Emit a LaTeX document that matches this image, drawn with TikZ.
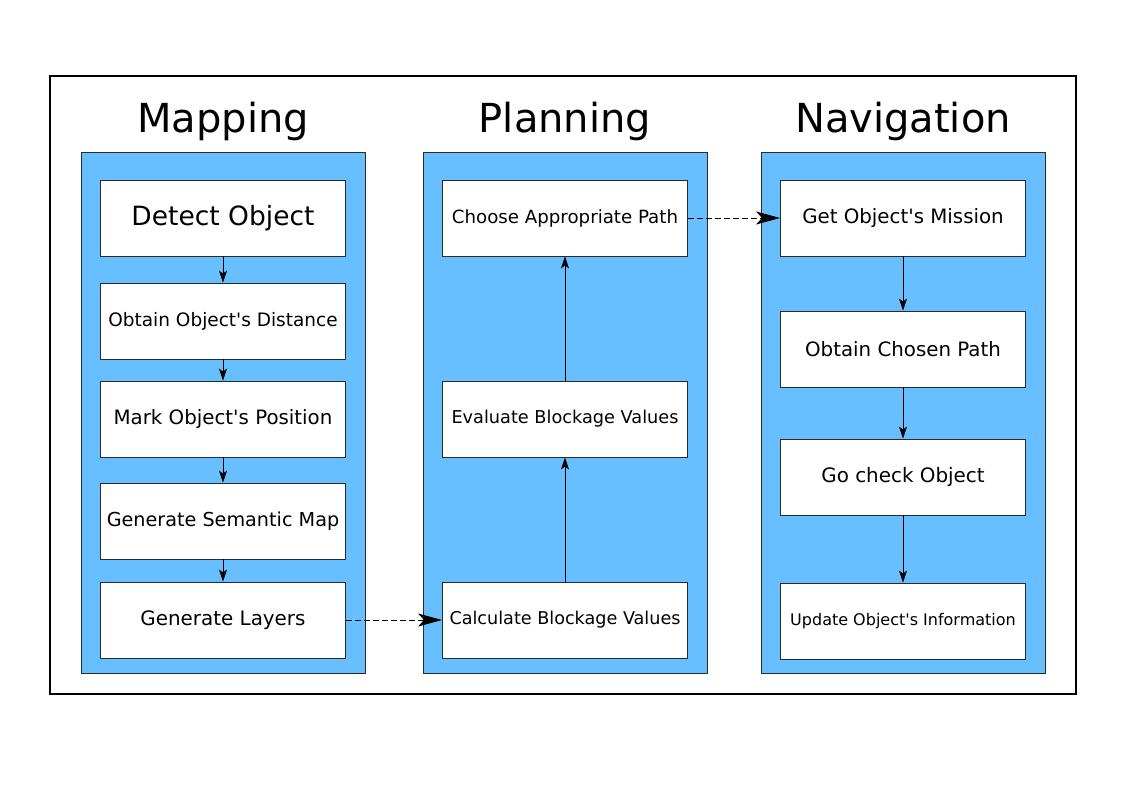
\documentclass[tikz,border=0pt]{standalone}
\usepackage{fontspec}
\setmainfont{DejaVu Sans}[Ligatures=TeXOff]
\usetikzlibrary{arrows.meta}
\definecolor{colblue}{HTML}{68BFFF}
\definecolor{edge}{HTML}{2B2B2B}
\begin{document}
\begin{tikzpicture}[x=1pt,y=-1pt,
  column/.style={draw=edge,line width=1pt,fill=colblue,minimum width=284pt,minimum height=520pt,inner sep=0pt},
  stepbox/.style={draw=edge,line width=0.9pt,fill=white,minimum width=245pt,minimum height=76pt,inner sep=0pt,font=\fontsize{19}{22}\selectfont},
  title/.style={font=\fontsize{40}{46}\selectfont},
  flow/.style={-{Stealth[length=12pt,width=8pt,inset=3pt]},line width=0.9pt},
  link/.style={dash pattern=on 6pt off 3pt,-{Stealth[length=24pt,width=13pt,inset=6pt]},line width=0.9pt}]
\useasboundingbox (0,0) rectangle (1123,794);
\node[draw=black,line width=2pt,minimum width=1026pt,minimum height=618pt,inner sep=0pt] (frame) at (563,385) {};
% columns
\node[column] (cmap) at (223,413) {};
\node[column] (cplan) at (565,413) {};
\node[column] (cnav) at (903,413) {};
% titles
\node[title] (tmap) at (223,121) {Mapping};
\node[title] (tplan) at (565,121) {Planning};
\node[title] (tnav) at (903,121) {Navigation};
% mapping
\node[stepbox,font=\fontsize{26.5}{30}\selectfont] (m1) at (223,218) {Detect Object};
\node[stepbox,font=\fontsize{18.5}{22}\selectfont] (m2) at (223,321) {Obtain Object's Distance};
\node[stepbox,font=\fontsize{19.8}{22}\selectfont] (m3) at (223,419) {Mark Object's Position};
\node[stepbox,font=\fontsize{19.2}{22}\selectfont] (m4) at (223,521) {Generate Semantic Map};
\node[stepbox,font=\fontsize{19.9}{22}\selectfont] (m5) at (223,620) {Generate Layers};
% planning
\node[stepbox,font=\fontsize{18.2}{22}\selectfont] (p1) at (565,218) {Choose Appropriate Path};
\node[stepbox,font=\fontsize{17.7}{22}\selectfont] (p2) at (565,419) {Evaluate Blockage Values};
\node[stepbox,font=\fontsize{17.6}{22}\selectfont] (p3) at (565,620) {Calculate Blockage Values};
% navigation
\node[stepbox,font=\fontsize{19.8}{22}\selectfont] (n1) at (903,218) {Get Object's Mission};
\node[stepbox,font=\fontsize{19.8}{22}\selectfont] (n2) at (903,349) {Obtain Chosen Path};
\node[stepbox,font=\fontsize{19.9}{22}\selectfont] (n3) at (903,477) {Go check Object};
\node[stepbox,font=\fontsize{16}{20}\selectfont] (n4) at (903,621) {Update Object's Information};
% arrows
\draw[flow] (m1) -- (m2);
\draw[flow] (m2) -- (m3);
\draw[flow] (m3) -- (m4);
\draw[flow] (m4) -- (m5);
\draw[flow] (p3) -- (p2);
\draw[flow] (p2) -- (p1);
\draw[flow] (n1) -- (n2);
\draw[flow] (n2) -- (n3);
\draw[flow] (n3) -- (n4);
\draw[link] (m5) -- (p3);
\draw[link] (p1) -- (n1);
\end{tikzpicture}
\end{document}
